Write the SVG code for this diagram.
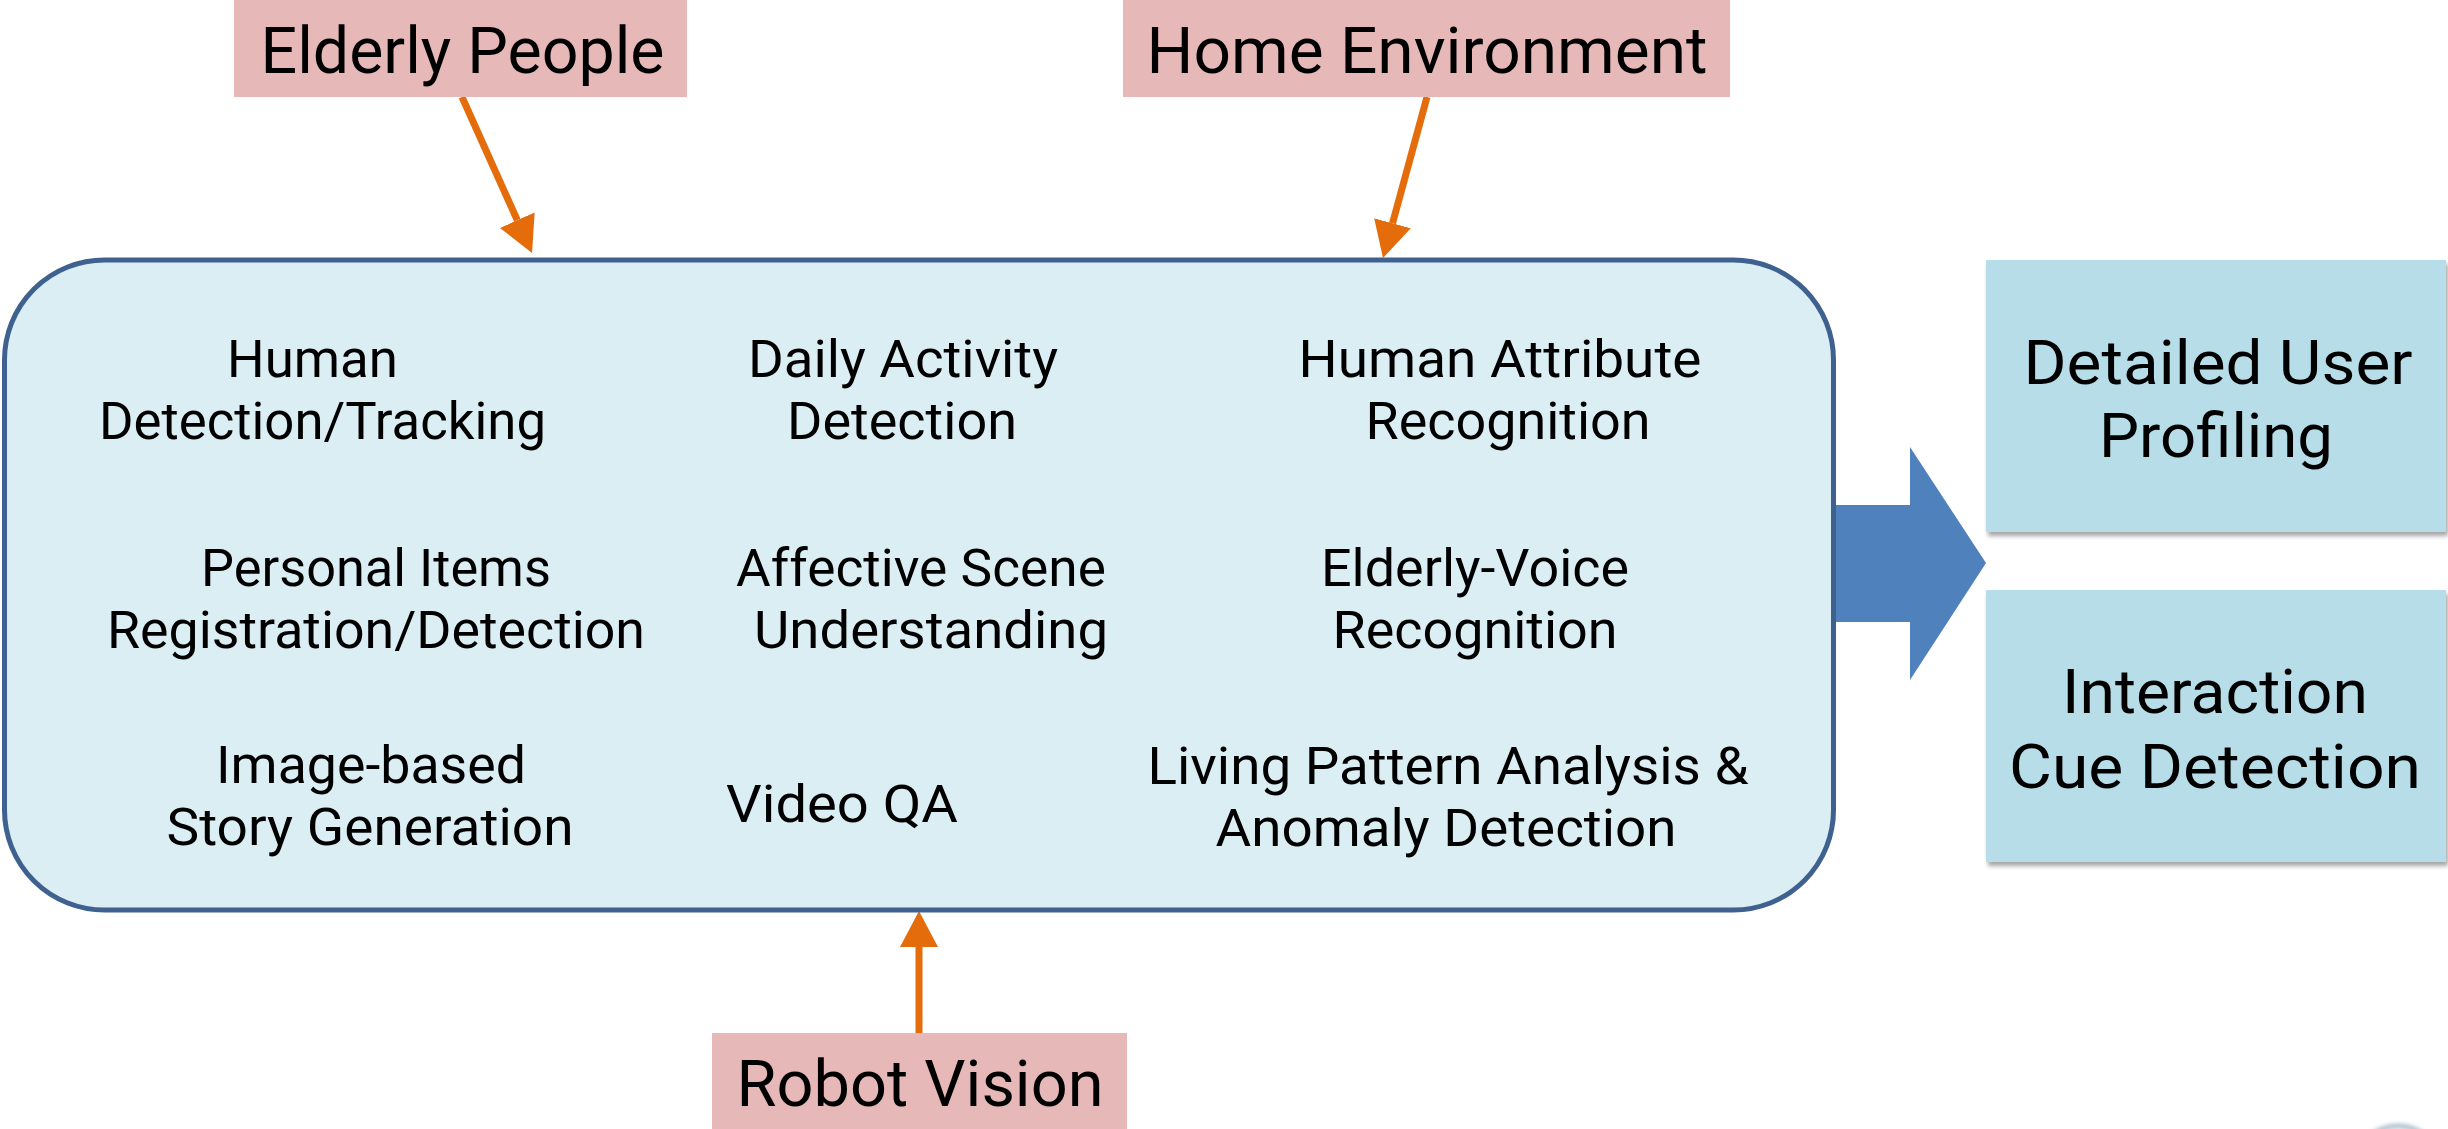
<svg xmlns="http://www.w3.org/2000/svg" width="2448" height="1129" viewBox="0 0 2448 1129">
  <defs>
    <style>
      .lbl { font-family: Roboto, "Open Sans", "Liberation Sans", sans-serif; fill: #000; text-anchor: middle; }
      .big { font-size: 64px; }
      .big2 { font-size: 62px; }
      .small { font-size: 51px; }
      .pink { fill: #e6b8b7; }
      .out { fill: #b7dee8; filter: url(#shadow); }
      .orange { stroke: #e46c0a; stroke-width: 7; fill: none; marker-end: url(#head); }
    </style>
    <marker id="head" markerUnits="userSpaceOnUse" markerWidth="36" markerHeight="38" refX="0" refY="19" orient="auto" viewBox="0 0 36 38">
      <path d="M0,0 L36,19 L0,38 z" fill="#e46c0a"/>
    </marker>
    <filter id="shadow" x="-5%" y="-5%" width="115%" height="120%">
      <feDropShadow dx="2" dy="4" stdDeviation="2" flood-color="#000" flood-opacity="0.35"/>
    </filter>
    <filter id="blur" x="-50%" y="-50%" width="200%" height="200%">
      <feGaussianBlur stdDeviation="2"/>
    </filter>
  </defs>
  <rect x="0" y="0" width="2448" height="1129" fill="#fff"/>

  <g id="connectors">
    <line class="orange" x1="462" y1="97" x2="517.3" y2="220.2"/>
    <line class="orange" x1="1427" y1="97" x2="1392.5" y2="223.3"/>
    <line class="orange" x1="919" y1="1033" x2="919" y2="947"/>
    <polygon id="to-outputs" points="1830,505 1910,505 1910,447 1986,563 1910,680 1910,622 1830,622" fill="#4f81bd"/>
  </g>

  <g id="elderly-people">
    <rect class="pink" x="234" y="-5" width="453" height="102"/>
    <text class="lbl big" x="462.5" y="73" textLength="404" lengthAdjust="spacingAndGlyphs">Elderly People</text>
  </g>

  <g id="home-environment">
    <rect class="pink" x="1123" y="-5" width="607" height="102"/>
    <text class="lbl big" x="1427" y="73" textLength="561" lengthAdjust="spacingAndGlyphs">Home Environment</text>
  </g>

  <g id="robot-vision">
    <rect class="pink" x="712" y="1033" width="415" height="100"/>
    <text class="lbl big" x="920" y="1106" textLength="367" lengthAdjust="spacingAndGlyphs">Robot Vision</text>
  </g>

  <g id="capabilities">
    <rect x="4.5" y="260" width="1829" height="650" rx="100" ry="100" fill="#daeef3" stroke="#3e6190" stroke-width="5"/>
    <g class="lbl small">
      <text><tspan x="312.5" y="377" textLength="171" lengthAdjust="spacingAndGlyphs">Human</tspan><tspan x="322.5" y="439" textLength="447" lengthAdjust="spacingAndGlyphs">Detection/Tracking</tspan></text>
      <text><tspan x="376" y="586" textLength="350" lengthAdjust="spacingAndGlyphs">Personal Items</tspan><tspan x="376" y="648" textLength="538" lengthAdjust="spacingAndGlyphs">Registration/Detection</tspan></text>
      <text><tspan x="371" y="783" textLength="310" lengthAdjust="spacingAndGlyphs">Image-based</tspan><tspan x="370" y="845" textLength="407" lengthAdjust="spacingAndGlyphs">Story Generation</tspan></text>

      <text><tspan x="903" y="377" textLength="310" lengthAdjust="spacingAndGlyphs">Daily Activity</tspan><tspan x="902" y="439" textLength="230" lengthAdjust="spacingAndGlyphs">Detection</tspan></text>
      <text><tspan x="921" y="586" textLength="370" lengthAdjust="spacingAndGlyphs">Affective Scene</tspan><tspan x="931" y="648" textLength="354" lengthAdjust="spacingAndGlyphs">Understanding</tspan></text>
      <text x="842" y="822" textLength="232" lengthAdjust="spacingAndGlyphs">Video QA</text>

      <text><tspan x="1500" y="377" textLength="403" lengthAdjust="spacingAndGlyphs">Human Attribute</tspan><tspan x="1508" y="439" textLength="285" lengthAdjust="spacingAndGlyphs">Recognition</tspan></text>
      <text><tspan x="1475" y="586" textLength="308" lengthAdjust="spacingAndGlyphs">Elderly-Voice</tspan><tspan x="1475" y="648" textLength="285" lengthAdjust="spacingAndGlyphs">Recognition</tspan></text>
      <text><tspan x="1448" y="784" textLength="601" lengthAdjust="spacingAndGlyphs">Living Pattern Analysis &amp;</tspan><tspan x="1446" y="846" textLength="461" lengthAdjust="spacingAndGlyphs">Anomaly Detection</tspan></text>
    </g>
  </g>

  <g id="detailed-user-profiling">
    <rect class="out" x="1986" y="260" width="460" height="272"/>
    <text class="lbl big2"><tspan x="2218" y="384" textLength="389" lengthAdjust="spacingAndGlyphs">Detailed User</tspan><tspan x="2216" y="457" textLength="234" lengthAdjust="spacingAndGlyphs">Profiling</tspan></text>
  </g>

  <g id="interaction-cue-detection">
    <rect class="out" x="1986" y="590" width="460" height="272"/>
    <text class="lbl big2"><tspan x="2215" y="713" textLength="306" lengthAdjust="spacingAndGlyphs">Interaction</tspan><tspan x="2215" y="788" textLength="412" lengthAdjust="spacingAndGlyphs">Cue Detection</tspan></text>
  </g>

  <ellipse cx="2398" cy="1152" rx="34" ry="26" fill="none" stroke="#9db3c6" stroke-width="4" filter="url(#blur)"/>
</svg>
